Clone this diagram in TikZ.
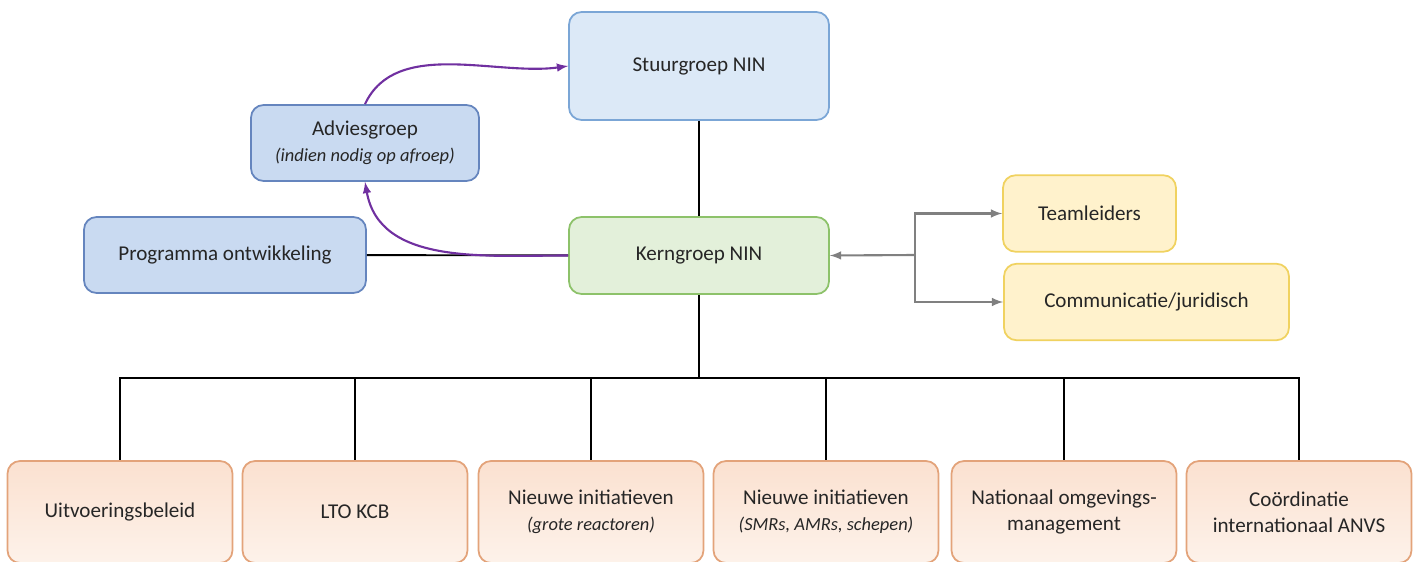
\documentclass[tikz,border=0pt]{standalone}
\usepackage{fontspec}
\setmainfont{Carlito}
\definecolor{stuurfill}{HTML}{DCE9F7}
\definecolor{stuurline}{HTML}{7BA6D6}
\definecolor{adviesfill}{HTML}{C9DAF1}
\definecolor{adviesline}{HTML}{6585BE}
\definecolor{kernfill}{HTML}{E3F0DA}
\definecolor{kernline}{HTML}{8DC26A}
\definecolor{teamfill}{HTML}{FFF2CC}
\definecolor{teamline}{HTML}{F0D260}
\definecolor{deelfill}{HTML}{FBE1D0}
\definecolor{deelfilltwo}{HTML}{FDF2EA}
\definecolor{deelline}{HTML}{E3A37A}
\definecolor{pijlpaars}{HTML}{7030A0}
\definecolor{pijlgrijs}{HTML}{808080}
\newcommand{\subtxt}[1]{{\fontsize{10.5}{13}\selectfont\itshape #1}}

\begin{document}
\begin{tikzpicture}[x=0.02cm,y=-0.02cm,
                    line width=1.1pt,
                    font=\fontsize{12}{15}\selectfont,
                    box/.style={rectangle,rounded corners=0.25cm,draw,line width=1pt,
                                text=black!85,align=center,inner sep=2pt},
                    stuur node/.style={box,fill=stuurfill,draw=stuurline,
                                       minimum width=5.2cm,minimum height=2.16cm},
                    advies node/.style={box,fill=adviesfill,draw=adviesline,
                                        minimum height=1.52cm},
                    kern node/.style={box,fill=kernfill,draw=kernline,
                                      minimum width=5.2cm,minimum height=1.54cm},
                    team node/.style={box,fill=teamfill,draw=teamline,
                                      minimum height=1.53cm},
                    deel node/.style={box,top color=deelfill,bottom color=deelfilltwo,
                                      draw=deelline,minimum width=4.5cm,minimum height=2.04cm},
                    purple arrow/.style={-latex,draw=pijlpaars,line width=1.2pt},
                    gray arrow/.style={-latex,draw=pijlgrijs,line width=1.2pt}]

  \path[use as bounding box] (0,0) rectangle (1416,561);
  \clip (0,0) rectangle (1416,561);

  % top part
  \node[stuur node] (stuur) at (699,66) {Stuurgroep NIN};
  \node[advies node,minimum width=4.56cm] (advies) at (365,143)
       {Adviesgroep\\\subtxt{(indien nodig op afroep)}};
  \node[advies node,minimum width=5.64cm] (prog) at (225,255) {Programma ontwikkeling};
  \node[kern node] (kern) at (699,255.5) {Kerngroep NIN};
  \node[team node,minimum width=3.46cm] (team) at (1089.5,213.5) {Teamleiders};
  \node[team node,minimum width=5.7cm] (comm) at (1146.5,302) {Communicatie/juridisch};

  % bottom row
  \node[deel node] (uit) at (120,512) {Uitvoeringsbeleid};
  \node[deel node] (lto) at (355,512) {LTO KCB};
  \node[deel node] (groot) at (591,512) {Nieuwe initiatieven\\\subtxt{(grote reactoren)}};
  \node[deel node] (smr) at (826,512) {Nieuwe initiatieven\\\subtxt{(SMRs, AMRs, schepen)}};
  \node[deel node] (omg) at (1064,512) {Nationaal omgevings-\\management};
  \node[deel node] (anvs) at (1299,512) {Coördinatie\\internationaal ANVS};

  \coordinate (split) at (915,255);
  \coordinate (bus) at (699,378);

  \draw (stuur) -- (kern);
  \draw (prog) -- (kern);
  \draw (kern) -- (bus);
  \draw (bus) -| (uit.north);
  \draw (bus) -| (lto.north);
  \draw (bus) -| (groot.north);
  \draw (bus) -| (smr.north);
  \draw (bus) -| (omg.north);
  \draw (bus) -| (anvs.north);

  \draw[purple arrow] (kern.west) to[out=180,in=-80] (advies.south);
  \draw[purple arrow] (advies.north) to[out=65,in=188,looseness=0.9] (stuur.west);

  \draw[gray arrow] (split) -- (kern.east);
  \draw[gray arrow] (split) |- (team.west);
  \draw[gray arrow] (split) |- (comm.west);
\end{tikzpicture}
\end{document}
